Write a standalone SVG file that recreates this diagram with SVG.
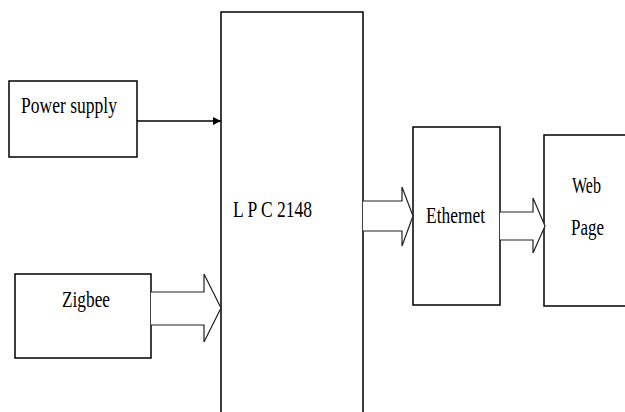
<svg xmlns="http://www.w3.org/2000/svg" width="625" height="412" viewBox="0 0 625 412">
<style>
.box{fill:#fff;stroke:#000;stroke-width:1.5}
.blk{fill:#fff;stroke:#222;stroke-width:1.2;stroke-linejoin:miter}
.t{font-family:"Liberation Serif","Times New Roman",serif;font-size:24px;fill:#000}
.ln{stroke:#000;stroke-width:1.5;fill:none}
</style>
<defs>
<marker id="ah" viewBox="0 0 10 10" refX="10" refY="5" markerWidth="8" markerHeight="8" markerUnits="userSpaceOnUse" orient="auto">
<path d="M0,0 L10,5 L0,10 z" fill="#000"/>
</marker>
</defs>
<rect width="625" height="412" fill="#fff"/>
<g id="power">
<rect class="box" x="9" y="81" width="128" height="76"/>
<text class="t" x="21" y="113" textLength="96" lengthAdjust="spacingAndGlyphs">Power supply</text>
</g>
<g id="zigbee">
<rect class="box" x="15" y="274" width="136" height="84"/>
<text class="t" x="62" y="307" textLength="48" lengthAdjust="spacingAndGlyphs">Zigbee</text>
</g>
<g id="lpc">
<path class="box" d="M221,414 L221,12 L363,12 L363,414"/>
<text class="t" x="233" y="217" textLength="79" lengthAdjust="spacingAndGlyphs">L P C 2148</text>
</g>
<g id="ethernet">
<rect class="box" x="413" y="127" width="87" height="178"/>
<text class="t" x="426" y="223" textLength="59" lengthAdjust="spacingAndGlyphs">Ethernet</text>
</g>
<g id="webpage">
<path class="box" d="M630,135 L544,135 L544,306 L630,306"/>
<text class="t" x="572" y="193" textLength="29" lengthAdjust="spacingAndGlyphs">Web</text>
<text class="t" x="571" y="235" textLength="33" lengthAdjust="spacingAndGlyphs">Page</text>
</g>
<g id="connectors">
<line class="ln" x1="137" y1="121" x2="221" y2="121" marker-end="url(#ah)"/>
<path class="blk" d="M151,292 L204,292 L204,274 L221,308 L204,342 L204,325 L151,325"/>
<path class="blk" d="M363,201 L402,201 L402,187 L413,216 L402,246 L402,231 L363,231"/>
<path class="blk" d="M500,212 L533,212 L533,198 L545,226 L533,253 L533,240 L500,240"/>
</g>
</svg>
